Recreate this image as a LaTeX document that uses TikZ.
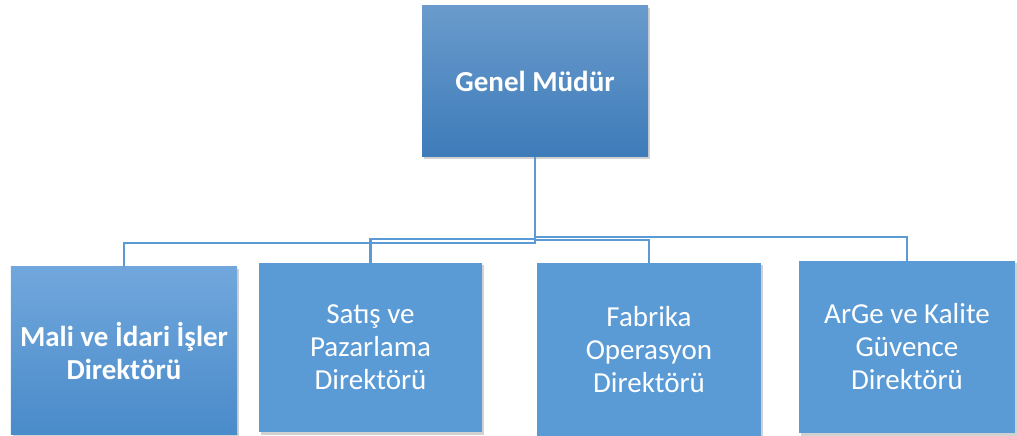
\documentclass[tikz,border=0pt]{standalone}
\usepackage{fontspec}
\setmainfont{Carlito}
\usetikzlibrary{shadows}
\definecolor{boxblue}{HTML}{5B9BD5}
\definecolor{topA}{HTML}{6A9BCC}
\definecolor{topB}{HTML}{3D7BB9}
\definecolor{oneA}{HTML}{71A7DC}
\definecolor{oneB}{HTML}{4A8BCA}
\tikzset{
  orgbox/.style={draw=none, fill=boxblue, text=white, align=center, inner sep=0pt,
    drop shadow={shadow xshift=2bp, shadow yshift=-2.5bp, opacity=0.3, fill=black!60}},
  conn/.style={draw=boxblue, line width=2.5bp},
  regtext/.style={font=\fontsize{29bp}{33bp}\selectfont},
  boldtext/.style={font=\fontsize{29bp}{33bp}\selectfont\bfseries},
}
\begin{document}
\begin{tikzpicture}[x=1bp,y=-1bp]
\useasboundingbox (0,0) rectangle (1017,436);
\node[orgbox, top color=topA, bottom color=topB, minimum width=226bp, minimum height=151bp,
  font=\fontsize{29bp}{34bp}\selectfont\bfseries] (top) at (535,81.5) {Genel Müdür};
\node[orgbox, top color=oneA, bottom color=oneB, minimum width=226bp, minimum height=167bp,
  boldtext] (b1) at (124,350.5) {Mali ve İdari İşler\\Direktörü};
\node[orgbox, minimum width=223bp, minimum height=169bp, regtext] (b2) at (370.5,347.5) {Satış ve\\Pazarlama\\Direktörü};
\node[orgbox, minimum width=224bp, minimum height=173bp, regtext] (b3) at (649,349.5) {Fabrika\\Operasyon\\Direktörü};
\node[orgbox, minimum width=216bp, minimum height=172bp, regtext] (b4) at (907,347) {ArGe ve Kalite\\Güvence\\Direktörü};
\draw[conn] (top.south) -- (top.south |- 0,243) -| (b1.north);
\draw[conn] (top.south) -- (top.south |- 0,239) -| (b2.north);
\draw[conn] (top.south) -- (top.south |- 0,240) -| (b3.north);
\draw[conn] (top.south) -- (top.south |- 0,237) -| (b4.north);
\end{tikzpicture}
\end{document}
